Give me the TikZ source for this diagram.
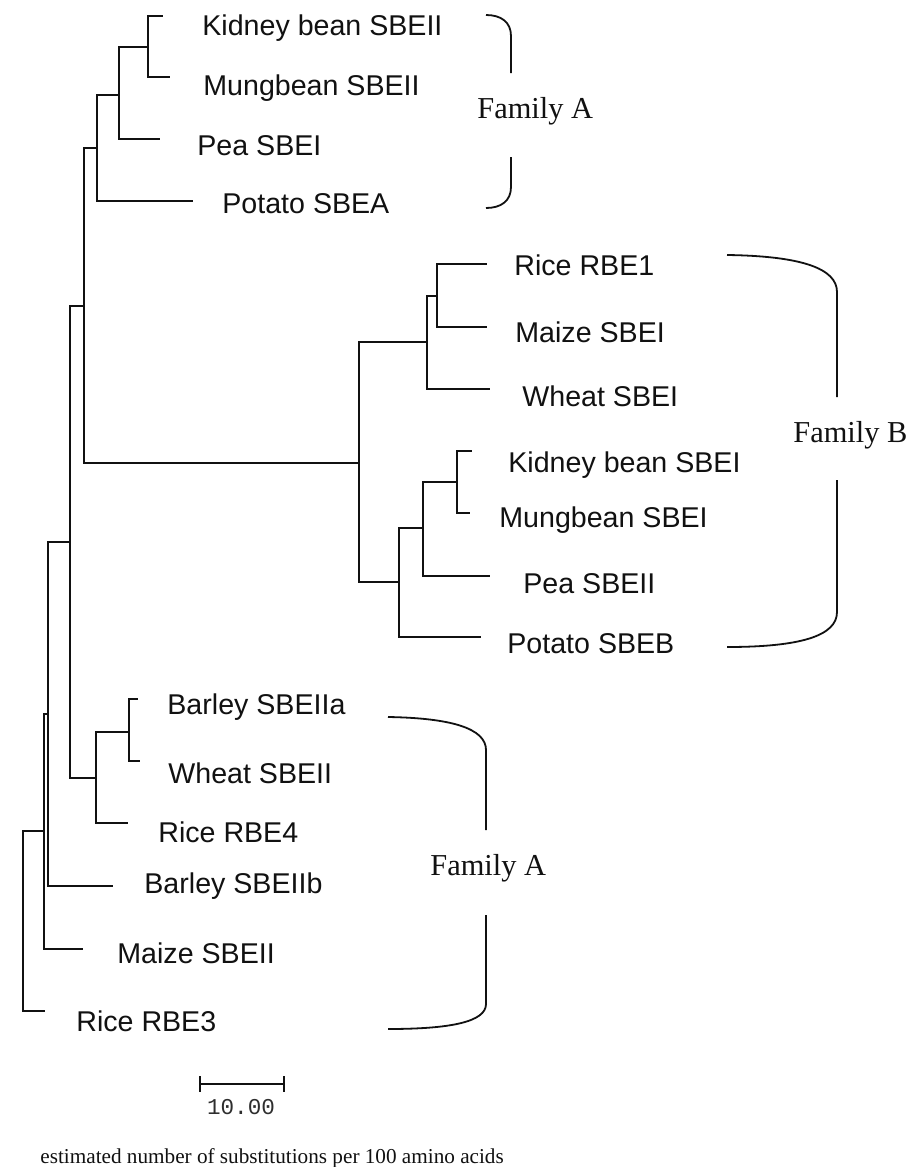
\documentclass[tikz,border=0pt]{standalone}
\usepackage{fontspec}
\setmainfont{Liberation Serif}
\setsansfont{Liberation Sans}
\setmonofont{Liberation Mono}

\begin{document}
\begin{tikzpicture}[x=0.5pt,y=-0.5pt,
    tree/.style={ink,line width=1pt},
    clade/.style={ink,line width=0.9pt},
    taxon/.style={anchor=base west,inner sep=0pt,text=ink,
      font=\sffamily\fontsize{14.3}{16}\selectfont},
    family/.style={anchor=base west,inner sep=0pt,text=ink,
      font=\rmfamily\fontsize{15.2}{17}\selectfont}]
  \definecolor{ink}{HTML}{111111}
  \definecolor{scalegray}{HTML}{2E2E2E}
  \path[use as bounding box,fill=white] (0,0) rectangle (920,1167);
  % internal nodes of the tree
  \foreach \nm/\xx/\yy in {r/23/921,n1/44/831,n2/48/714,n3/70/542,n4/84/306,
      a1/97/148,a2/119/95,a3/148/47,b0/359/463,b1/427/342,b2/437/296,
      b3/399/582,b4/423/528,b5/457/482,c1/96/778,c2/129/732}{
    \coordinate (\nm) at (\xx,\yy);
  }
  \foreach \up/\dn in {r/n1,n1/n2,n2/n3,n3/n4,n4/a1,a1/a2,a2/a3,n4/b0,b0/b1,
      b1/b2,b0/b3,b3/b4,b4/b5,n3/c1,c1/c2}{
    \draw[tree] (\up) |- (\dn);
  }
  % leaves and their labels
  \foreach \nm/\up/\tx/\ty/\lx/\ly/\lab in {
      kbA/a3/163/16/202/35/{Kidney bean SBEII},
      mbA/a3/170/77/203/95/{Mungbean SBEII},
      peA/a2/160/139/197/155/{Pea SBEI},
      poA/a1/193/201/222/213/{Potato SBEA},
      riB/b2/487/264/514/275/{Rice RBE1},
      maB/b2/487/327/515/342/{Maize SBEI},
      whB/b1/490/389/522/406/{Wheat SBEI},
      kbB/b5/472/451/508/472/{Kidney bean SBEI},
      mbB/b5/470/513/499/527/{Mungbean SBEI},
      peB/b4/490/576/523/593/{Pea SBEII},
      poB/b3/481/637/507/653/{Potato SBEB},
      baA/c2/138/699/167/714/{Barley SBEIIa},
      whA/c2/140/761/168/783/{Wheat SBEII},
      riF/c1/128/823/158/842/{Rice RBE4},
      bbA/n2/113/886/144/893/{Barley SBEIIb},
      maA/n1/83/949/117/963/{Maize SBEII},
      riT/r/45/1011/76/1031/{Rice RBE3}}{
    \coordinate (\nm) at (\tx,\ty);
    \draw[tree] (\up) |- (\nm);
    \node[taxon] (\nm-lab) at (\lx,\ly) {\lab};
  }
  % family brackets
  \node[family] (famA-top) at (477,118) {Family A};
  \draw[clade] (486,15) .. controls (501,15) and (511,22) .. (511,36) -- (511,73);
  \draw[clade] (511,157) -- (511,187) .. controls (511,201) and (501,208) .. (486,208);
  \node[family] (famB) at (793,442) {Family B};
  \draw[clade] (727,255) .. controls (800,256) and (837,268) .. (837,292) -- (837,397);
  \draw[clade] (837,480) -- (837,612) .. controls (837,636) and (800,647) .. (727,647);
  \node[family] (famA-low) at (430,875) {Family A};
  \draw[clade] (388,717) .. controls (450,718) and (486,728) .. (486,750) -- (486,830);
  \draw[clade] (486,915) -- (486,1004) .. controls (486,1022) and (450,1029) .. (388,1029);
  % scale bar
  \coordinate (bar-l) at (199,1084);
  \coordinate (bar-r) at (285,1084);
  \draw[tree,|-|] (bar-l) -- (bar-r);
  \node[text=scalegray,font=\ttfamily\fontsize{11.3}{12}\selectfont,inner sep=0pt]
    (bar-lab) at (241,1107) {10.00};
  \node[anchor=base west,inner sep=0pt,text=ink,font=\rmfamily\fontsize{10.6}{12}\selectfont]
    (caption) at (40,1163) {estimated number of substitutions per 100 amino acids};
\end{tikzpicture}
\end{document}
